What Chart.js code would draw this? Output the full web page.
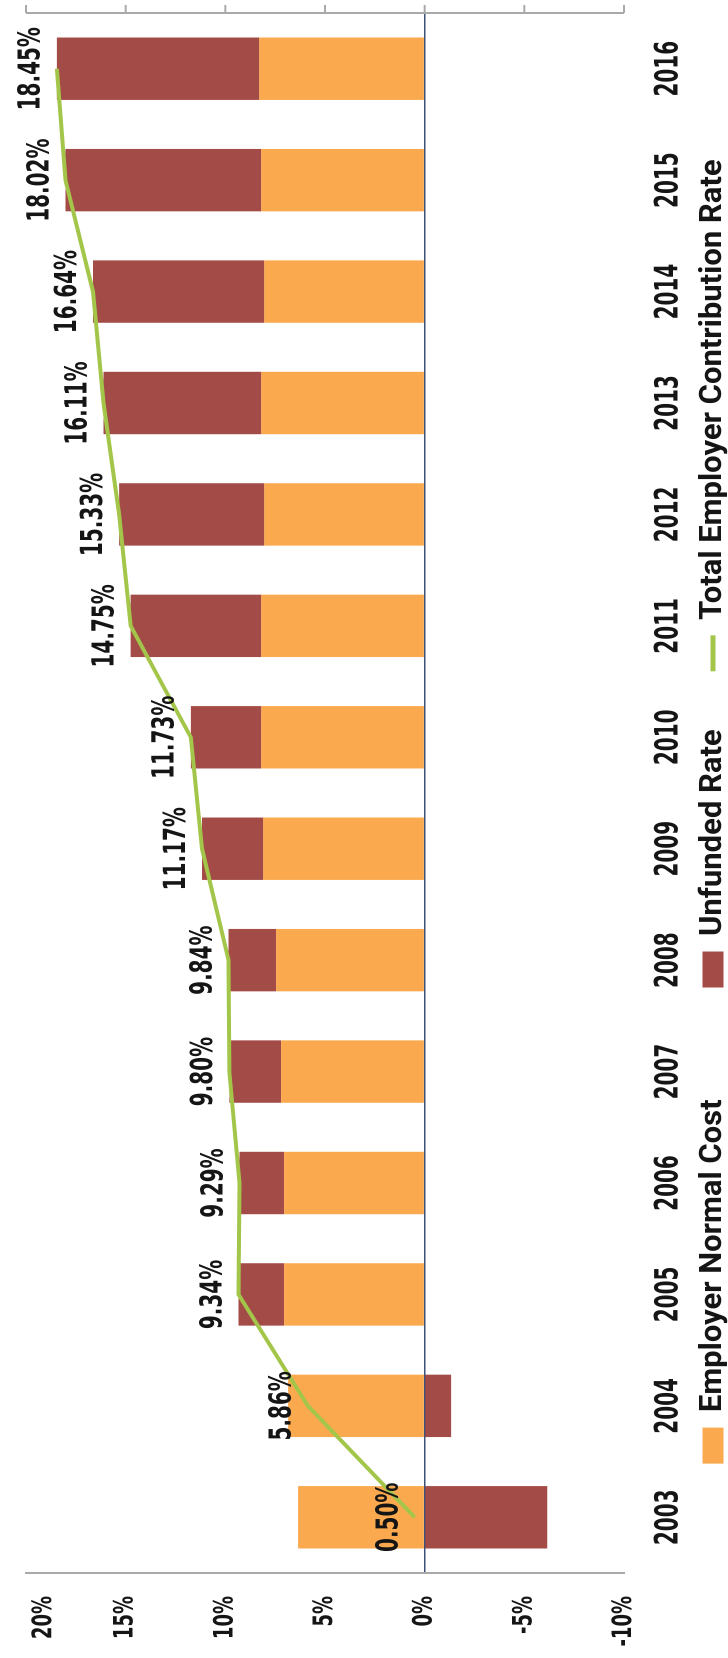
<!DOCTYPE html>
<html>
<head>
<meta charset="utf-8">
<script src="https://cdn.jsdelivr.net/npm/chart.js@4.4.1/dist/chart.umd.min.js"></script>
<style>
html,body{margin:0;padding:0;background:#fff;overflow:hidden;width:728px;height:1658px;}
#wrap{position:absolute;left:0;top:0;width:1658px;height:728px;transform-origin:0 0;transform:translateY(1658px) rotate(-90deg);}
</style>
</head>
<body>
<div id="wrap"><canvas id="c" width="1658" height="728"></canvas></div>
<script>
// ---- data ----
const years = ['2003','2004','2005','2006','2007','2008','2009','2010','2011','2012','2013','2014','2015','2016'];
const normalCost   = [6.35, 6.85, 7.05, 7.05, 7.20, 7.45, 8.10, 8.20, 8.20, 8.05, 8.20, 8.05, 8.20, 8.30];
const unfundedRate = [-6.15, -1.33, 2.29, 2.24, 2.60, 2.39, 3.07, 3.53, 6.55, 7.28, 7.91, 8.59, 9.82, 10.15];
const totalRate    = [0.50, 5.86, 9.34, 9.29, 9.80, 9.84, 11.17, 11.73, 14.75, 15.33, 16.11, 16.64, 18.02, 18.45];
const seriesNames  = ['Employer Normal Cost', 'Unfunded Rate', 'Total Employer Contribution Rate'];
const valueMin = -10, valueMax = 20, valueStep = 5;

const ORANGE = '#FBA94E', RED = '#A34B47', GREEN = '#A3C64A', INK = '#151515';

function stretchedText(ctx, txt, x, y, size, k, align) {
  ctx.save();
  ctx.translate(x, y);
  ctx.scale(1, k);
  ctx.font = 'bold ' + size + 'px "DejaVu Sans"';
  ctx.fillStyle = INK;
  ctx.textAlign = align || 'center';
  ctx.textBaseline = 'middle';
  ctx.fillText(txt, 0, 0);
  ctx.restore();
}

const textPlugin = {
  id: 'texts',
  afterDraw(chart) {
    const ctx = chart.ctx, ca = chart.chartArea;
    const ys = chart.scales.y, xs = chart.scales.x;
    // right-hand axis line with outward tick marks
    ctx.save();
    ctx.strokeStyle = '#a9a9a9';
    ctx.lineWidth = 2;
    ctx.beginPath(); ctx.moveTo(ca.right, ca.top); ctx.lineTo(ca.right, ca.bottom); ctx.stroke();
    ys.ticks.forEach(t => {
      const py = ys.getPixelForValue(t.value);
      ctx.beginPath(); ctx.moveTo(ca.right, py); ctx.lineTo(ca.right + 8, py); ctx.stroke();
    });
    ctx.restore();
    // value tick labels (kept inside the chart's top edge)
    ys.ticks.forEach(t => stretchedText(ctx, t.value + '%', ca.left - 23, Math.max(ys.getPixelForValue(t.value), ca.top + 18), 18, 1.5, 'right'));
    // category labels
    xs.ticks.forEach((t, i) => stretchedText(ctx, years[i], xs.getPixelForTick(i), ca.bottom + 45, 20, 1.6));
    // data labels for the total line
    const meta = chart.getDatasetMeta(2);
    meta.data.forEach((pt, i) => stretchedText(ctx, totalRate[i].toFixed(2) + '%', pt.x, pt.y - 25, 20, 1.5));
  }
};

new Chart(document.getElementById('c'), {
  data: {
    labels: years,
    datasets: [
      { type: 'bar', label: seriesNames[0], data: normalCost, backgroundColor: ORANGE, borderWidth: 0, stack: 'bars', order: 1, pointStyle: 'rect' },
      { type: 'bar', label: seriesNames[1], data: unfundedRate, backgroundColor: RED, borderWidth: 0, stack: 'bars', order: 1, pointStyle: 'rect' },
      { type: 'line', label: seriesNames[2], data: totalRate, borderColor: GREEN, backgroundColor: GREEN, borderWidth: 4,
        pointRadius: 0, pointStyle: 'line', tension: 0, stack: 'total', order: 0 }
    ]
  },
  options: {
    responsive: false,
    animation: false,
    devicePixelRatio: 2,
    datasets: { bar: { categoryPercentage: 1.0, barPercentage: 0.56 } },
    layout: { padding: { top: 26, right: 13, left: 48, bottom: -10.5 } },
    scales: {
      x: {
        stacked: true,
        grid: { display: false },
        border: { display: false },
        ticks: { display: false },
        afterFit(s) { s.height = 15.5; }
      },
      y: {
        stacked: true,
        min: valueMin, max: valueMax,
        ticks: { display: false, stepSize: valueStep },
        grid: {
          drawTicks: false,
          lineWidth: 1.5,
          color: c => (c.tick && c.tick.value === 0) ? '#3F5178' : 'rgba(0,0,0,0)'
        },
        border: { display: true, color: '#a9a9a9', width: 2 },
        afterFit(s) { s.width = 37; }
      }
    },
    plugins: {
      tooltip: { enabled: false },
      legend: {
        position: 'bottom',
        labels: {
          font: { family: 'Roboto', weight: 'bold', size: 31 },
          color: INK,
          usePointStyle: true,
          pointStyleWidth: 36,
          boxHeight: 21,
          padding: 58,
          sort: (a, b) => a.datasetIndex - b.datasetIndex,
          generateLabels(chart) {
            const items = Chart.defaults.plugins.legend.labels.generateLabels(chart);
            items.forEach(it => {
              if (it.datasetIndex === 2) { it.pointStyle = 'line'; it.lineWidth = 5; it.strokeStyle = GREEN; }
              else { it.pointStyle = 'rect'; it.lineWidth = 0; }
              if (it.datasetIndex === 0) { it.text = it.text + '       '; }
            });
            return items;
          }
        }
      }
    }
  },
  plugins: [textPlugin]
});
</script>
</body>
</html>
